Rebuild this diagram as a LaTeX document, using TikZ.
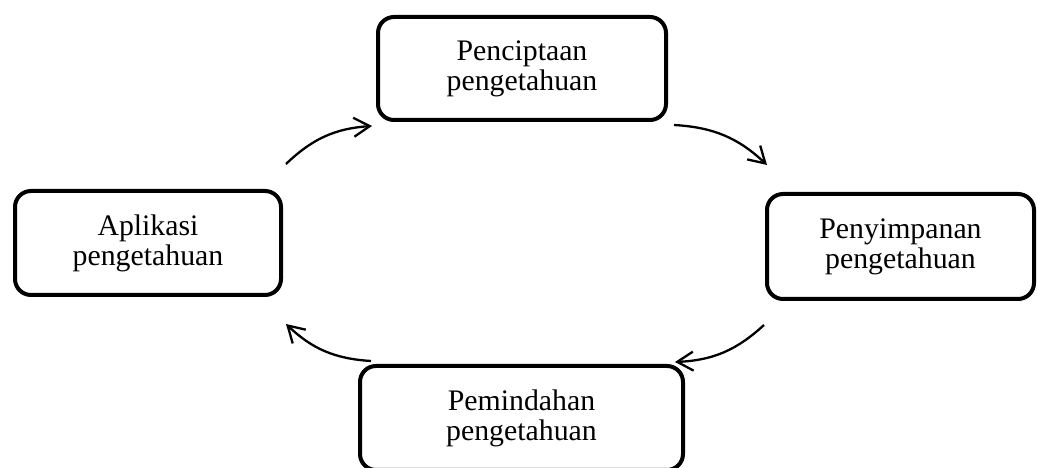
\documentclass[tikz,border=0pt]{standalone}
\usepackage{fontspec}
\setmainfont{Liberation Serif}
\usetikzlibrary{arrows.meta,calc}
\begin{document}
\begin{tikzpicture}[x=1pt,y=1pt,
  box/.style={draw, line width=4pt, rounded corners=16pt, align=center,
    font=\fontsize{29.8}{30}\selectfont, inner sep=0pt},
  flow/.style={line width=2.3pt, -{Straight Barb[length=16pt,width=19pt,line width=2.3pt]}, bend left=20}]
\useasboundingbox (0,0) rectangle (1037,468);
\clip (0,0) rectangle (1037,468);
\node[box, minimum width=288pt, minimum height=103pt] (top) at (522,399.5) {Penciptaan\\pengetahuan};
\node[box, minimum width=266pt, minimum height=104pt] (left) at (148,225) {Aplikasi\\pengetahuan};
\node[box, minimum width=267pt, minimum height=105pt] (right) at (900.5,221.5) {Penyimpanan\\pengetahuan};
\node[box, minimum width=323pt, minimum height=104pt] (bottom) at (521.5,50) {Pemindahan\\pengetahuan};
\draw[flow] ($(left.north east)+(3,25)$) to ($(top.south west)+(-4,-4)$);
\draw[flow] ($(top.south east)+(6,-3)$) to ($(right.north west)+(2,27)$);
\draw[flow] ($(right.south west)+(-1,-24)$) to ($(bottom.north east)+(-10,2)$);
\draw[flow] ($(bottom.north west)+(13,3)$) to ($(left.south east)+(3,-27)$);
\end{tikzpicture}
\end{document}
